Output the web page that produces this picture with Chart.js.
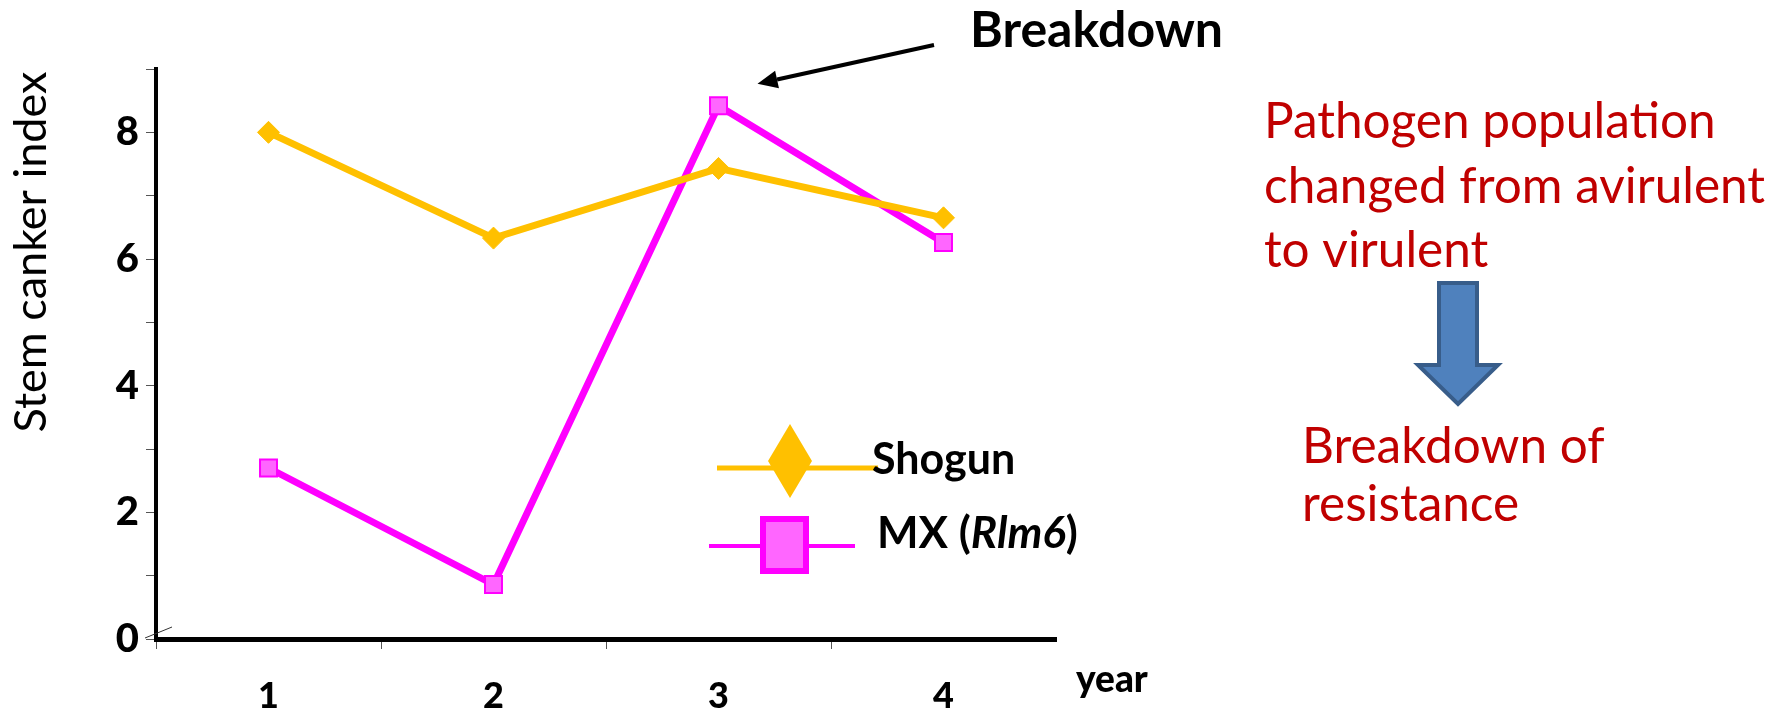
<!DOCTYPE html>
<html>
<head>
<meta charset="utf-8">
<script src="https://cdn.jsdelivr.net/npm/chart.js@4/dist/chart.umd.min.js"></script>
<style>
  html, body { margin: 0; padding: 0; background: #fff; }
  canvas { display: block; }
</style>
</head>
<body>
<canvas id="canker" width="1786" height="714"></canvas>
<script>
const years = ['1', '2', '3', '4'];
const shogun = [8.0, 6.33, 7.43, 6.65];
const mxRlm6 = [2.70, 0.86, 8.42, 6.26];
const yLabelled = [0, 2, 4, 6, 8];

const SHOGUN_COLOR = '#FFC000';
const MX_COLOR = '#FF00FF';
const MX_FILL = '#FF66FF';
const RED_TEXT = '#C00000';

function arrowLine(ctx, x1, y1, x2, y2, head, wing) {
  const a = Math.atan2(y2 - y1, x2 - x1);
  const bx = x2 - head * Math.cos(a), by = y2 - head * Math.sin(a);
  ctx.beginPath();
  ctx.moveTo(x1, y1);
  ctx.lineTo(bx, by);
  ctx.stroke();
  ctx.beginPath();
  ctx.moveTo(x2, y2);
  ctx.lineTo(bx + wing * Math.sin(a), by - wing * Math.cos(a));
  ctx.lineTo(bx - wing * Math.sin(a), by + wing * Math.cos(a));
  ctx.closePath();
  ctx.fill();
}

// axis title, legend and the side notes are painted on top of the chart
const annotate = {
  id: 'annotate',
  afterDraw(chart) {
    const ctx = chart.ctx;
    const { left, bottom } = chart.chartArea;
    const sets = chart.data.datasets;
    ctx.save();

    // break mark at the origin
    ctx.strokeStyle = '#333';
    ctx.lineWidth = 1;
    ctx.beginPath();
    ctx.moveTo(left - 11, bottom - 1);
    ctx.lineTo(left + 16, bottom - 12);
    ctx.stroke();

    // y axis title
    ctx.save();
    ctx.translate(31, 252);
    ctx.rotate(-Math.PI / 2);
    ctx.fillStyle = '#000';
    ctx.font = '45px Lato';
    ctx.textAlign = 'center';
    ctx.textBaseline = 'middle';
    ctx.fillText('Stem canker index', 0, 0);
    ctx.restore();

    // x axis title
    ctx.fillStyle = '#000';
    ctx.font = '900 37px Lato';
    ctx.textAlign = 'left';
    ctx.textBaseline = 'alphabetic';
    ctx.fillText('year', 1076, 692);

    // legend: Shogun
    ctx.strokeStyle = sets[0].borderColor;
    ctx.lineWidth = 5;
    ctx.beginPath();
    ctx.moveTo(717, 468);
    ctx.lineTo(878, 468);
    ctx.stroke();
    ctx.fillStyle = sets[0].pointBackgroundColor;
    ctx.beginPath();
    ctx.moveTo(790, 424);
    ctx.lineTo(812, 461);
    ctx.lineTo(790, 498);
    ctx.lineTo(768, 461);
    ctx.closePath();
    ctx.fill();
    ctx.fillStyle = '#000';
    ctx.font = 'bold 43px Lato';
    ctx.fillText(sets[0].label, 872, 474);

    // legend: MX (Rlm6)
    ctx.strokeStyle = sets[1].borderColor;
    ctx.lineWidth = 4;
    ctx.beginPath();
    ctx.moveTo(709, 546);
    ctx.lineTo(855, 546);
    ctx.stroke();
    ctx.fillStyle = sets[1].pointBackgroundColor;
    ctx.fillRect(763, 519, 43, 52);
    ctx.lineWidth = 6;
    ctx.strokeRect(763, 519, 43, 52);
    ctx.fillStyle = '#000';
    let x = 877;
    ctx.font = 'bold 44px Lato';
    ctx.fillText('MX (', x, 548);
    x += ctx.measureText('MX (').width;
    ctx.font = 'italic bold 44px Lato';
    ctx.fillText('Rlm6', x, 548);
    x += ctx.measureText('Rlm6').width;
    ctx.font = 'bold 44px Lato';
    ctx.fillText(')', x, 548);

    // "Breakdown" callout aimed at year 3 of MX
    const peak = chart.getDatasetMeta(1).data[2];
    ctx.font = 'bold 50px Lato';
    ctx.fillText('Breakdown', 970, 47);
    ctx.strokeStyle = '#000';
    ctx.fillStyle = '#000';
    ctx.lineWidth = 4;
    arrowLine(ctx, 934, 45, peak.x + 39, peak.y - 22, 20, 9);

    // side notes
    ctx.fillStyle = RED_TEXT;
    ctx.font = '49.5px Lato';
    ctx.fillText('Pathogen population', 1264, 138);
    ctx.fillText('changed from avirulent', 1264, 203);
    ctx.fillText('to virulent', 1264, 267);
    ctx.fillText('Breakdown of', 1302, 463);
    ctx.fillText('resistance', 1302, 521);

    // block arrow between the notes
    ctx.fillStyle = '#4F81BD';
    ctx.strokeStyle = '#385D8A';
    ctx.lineWidth = 4;
    ctx.lineJoin = 'miter';
    ctx.beginPath();
    ctx.moveTo(1439, 283);
    ctx.lineTo(1477, 283);
    ctx.lineTo(1477, 365);
    ctx.lineTo(1498, 365);
    ctx.lineTo(1458, 404);
    ctx.lineTo(1418, 365);
    ctx.lineTo(1439, 365);
    ctx.closePath();
    ctx.fill();
    ctx.stroke();

    ctx.restore();
  }
};

const tickGrid = {
  drawOnChartArea: false,
  tickLength: 10,
  tickWidth: 1,
  tickColor: ctx => ctx.type === 'tick' ? '#555' : 'rgba(0,0,0,0)'
};

new Chart(document.getElementById('canker'), {
  type: 'line',
  data: {
    labels: years,
    datasets: [
      {
        label: 'Shogun',
        data: shogun,
        borderColor: SHOGUN_COLOR,
        backgroundColor: SHOGUN_COLOR,
        pointBackgroundColor: SHOGUN_COLOR,
        pointBorderColor: SHOGUN_COLOR,
        borderWidth: 7,
        pointStyle: 'rectRot',
        pointRadius: 11,
        pointBorderWidth: 1,
        tension: 0
      },
      {
        label: 'MX (Rlm6)',
        data: mxRlm6,
        borderColor: MX_COLOR,
        backgroundColor: MX_FILL,
        pointBackgroundColor: MX_FILL,
        pointBorderColor: MX_COLOR,
        borderWidth: 7,
        pointStyle: 'rect',
        pointRadius: 12,
        pointBorderWidth: 2,
        tension: 0
      }
    ]
  },
  options: {
    responsive: false,
    animation: false,
    layout: { padding: { top: 69, right: 1786 - 1056, left: 0, bottom: 0 } },
    plugins: {
      legend: { display: false },
      tooltip: { enabled: false }
    },
    scales: {
      x: {
        offset: true,
        grid: Object.assign({ offset: true }, tickGrid),
        border: { color: '#000', width: 5 },
        ticks: {
          color: '#000',
          font: { family: 'Lato', weight: '900', size: 36 },
          padding: 26,
          maxRotation: 0
        },
        afterFit: s => { s.height = 75; }
      },
      y: {
        min: 0,
        max: 9,
        grid: tickGrid,
        border: { color: '#000', width: 4 },
        ticks: {
          stepSize: 1,
          autoSkip: false,
          color: '#000',
          font: { family: 'Lato', weight: '900', size: 40 },
          padding: 7,
          callback: v => yLabelled.includes(v) ? v : ''
        },
        afterFit: s => { s.width = 156; }
      }
    }
  },
  plugins: [annotate]
});
</script>
</body>
</html>
